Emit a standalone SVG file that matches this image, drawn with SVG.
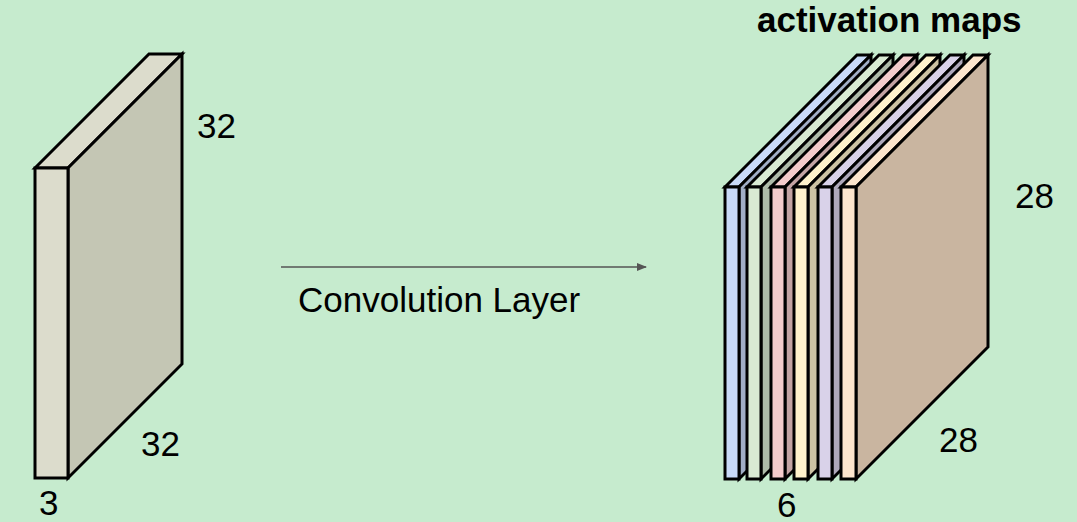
<svg xmlns="http://www.w3.org/2000/svg" width="1077" height="522" viewBox="0 0 1077 522">
<defs>
<style>
.face{stroke:#000;stroke-width:3;stroke-linejoin:miter}
.lbl{font-family:"Liberation Sans",Arial,sans-serif;font-size:35px;fill:#000}
.bold{font-weight:bold}
</style>
<marker id="ah" markerWidth="10" markerHeight="8" refX="9" refY="4" orient="auto" markerUnits="userSpaceOnUse">
<path d="M0,0 L10,4 L0,8 Z" fill="#555"/>
</marker>
</defs>
<rect width="1077" height="522" fill="#c6ebce"/>

<g id="input-volume">
<polygon class="face" fill="#dcdccc" points="35,168 149,54 182,54 68,168"/>
<polygon class="face" fill="#c4c6b4" points="68,168 182,54 182,364 68,478"/>
<rect class="face" fill="#dcdccc" x="35" y="168" width="33" height="310"/>
</g>

<g id="connectors">
<line x1="281" y1="267" x2="646" y2="267" stroke="#555" stroke-width="1.5" marker-end="url(#ah)"/>
</g>

<g id="map1">
<polygon class="face" fill="#c9daf8" points="725,187 857,55 871,55 739,187"/>
<polygon class="face" fill="#a1aec6" points="739,187 871,55 871,347 739,479"/>
<rect class="face" fill="#c9daf8" x="725" y="187" width="14" height="292"/>
</g>
<g id="map2">
<polygon class="face" fill="#d9ead3" points="747,187 879,55 893,55 761,187"/>
<polygon class="face" fill="#aebba9" points="761,187 893,55 893,347 761,479"/>
<rect class="face" fill="#d9ead3" x="747" y="187" width="14" height="292"/>
</g>
<g id="map3">
<polygon class="face" fill="#f4cccc" points="771,187 903,55 917,55 785,187"/>
<polygon class="face" fill="#c3a3a3" points="785,187 917,55 917,347 785,479"/>
<rect class="face" fill="#f4cccc" x="771" y="187" width="14" height="292"/>
</g>
<g id="map4">
<polygon class="face" fill="#fff2cc" points="794,187 926,55 940,55 808,187"/>
<polygon class="face" fill="#ccc2a3" points="808,187 940,55 940,347 808,479"/>
<rect class="face" fill="#fff2cc" x="794" y="187" width="14" height="292"/>
</g>
<g id="map5">
<polygon class="face" fill="#d9d2e9" points="818,187 950,55 964,55 832,187"/>
<polygon class="face" fill="#aea8ba" points="832,187 964,55 964,347 832,479"/>
<rect class="face" fill="#d9d2e9" x="818" y="187" width="14" height="292"/>
</g>
<g id="map6">
<polygon class="face" fill="#fce5cd" points="841,187 973,55 988,55 856,187"/>
<polygon class="face" fill="#c9b5a0" points="856,187 988,55 988,347 856,479"/>
<rect class="face" fill="#fce5cd" x="841" y="187" width="15" height="292"/>
</g>

<g id="labels">
<text class="lbl" x="197" y="138">32</text>
<text class="lbl" x="141" y="456">32</text>
<text class="lbl" x="39" y="515">3</text>
<text class="lbl" x="298" y="312">Convolution Layer</text>
<text class="lbl bold" x="757" y="32">activation maps</text>
<text class="lbl" x="1015" y="208">28</text>
<text class="lbl" x="939" y="452">28</text>
<text class="lbl" x="777" y="517">6</text>
</g>
</svg>
